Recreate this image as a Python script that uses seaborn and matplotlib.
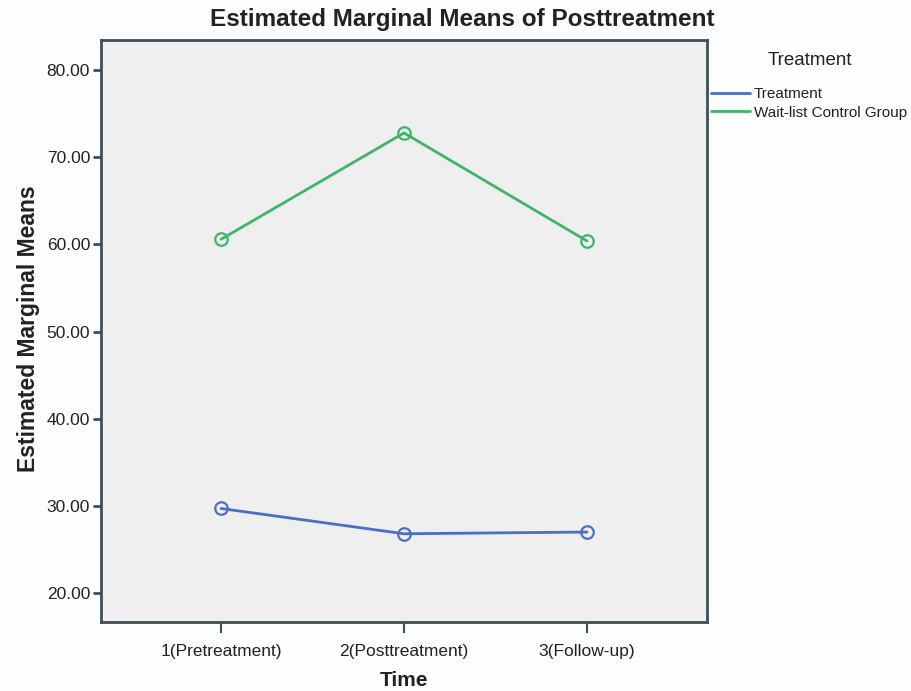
import pandas as pd
import matplotlib
matplotlib.use("Agg")
import matplotlib.pyplot as plt
from matplotlib.lines import Line2D
import seaborn as sns

# -----------------------------
# Data
# -----------------------------
time_labels = ["1(Pretreatment)", "2(Posttreatment)", "3(Follow-up)"]
groups = ["Treatment", "Wait-list Control Group"]
treatment_means = [29.7, 26.8, 27.0]
waitlist_means = [60.6, 72.8, 60.4]
y_ticks = [20, 30, 40, 50, 60, 70, 80]

colors = {"Treatment": "#4a6fc4", "Wait-list Control Group": "#3fb46a"}

df = pd.DataFrame({
    "Time": time_labels * 2,
    "Mean": treatment_means + waitlist_means,
    "Group": [groups[0]] * 3 + [groups[1]] * 3,
})

# -----------------------------
# Plot
# -----------------------------
sns.set_style("white")
plt.rcParams["font.family"] = ["Liberation Sans", "DejaVu Sans"]
txt = "#222222"

fig = plt.figure(figsize=(9.11, 6.91), dpi=100, facecolor="#fcfdff")
ax = fig.add_axes([0.111, 0.0998, 0.665, 0.842])
ax.set_facecolor("#efefef")

sns.lineplot(
    data=df,
    x="Time",
    y="Mean",
    hue="Group",
    palette=colors,
    marker="o",
    markersize=9,
    markerfacecolor="none",
    markeredgewidth=1.6,
    linewidth=2,
    sort=False,
    legend=False,
    ax=ax,
)
# open circles in the line colour
for line, g in zip(ax.lines, groups):
    line.set_markeredgecolor(colors[g])

ax.set_xlim(-0.656, 2.656)
ax.set_ylim(16.67, 83.44)
ax.set_yticks(y_ticks)
ax.set_yticklabels([f"{v:.2f}" for v in y_ticks], fontsize=12.5, color=txt)
ax.set_xticks(range(len(time_labels)))
ax.set_xticklabels(time_labels, fontsize=12.5, color=txt)
ax.tick_params(axis="y", left=True, length=6, width=2, color="#3f4f5a", direction="out", pad=2)
ax.tick_params(axis="x", bottom=True, length=8, width=1.5, color="#3f4f5a", direction="out", pad=8)

for s in ax.spines.values():
    s.set_color("#3f4f5a")
    s.set_linewidth(2)

fig.text(0.507, 0.972, "Estimated Marginal Means of Posttreatment",
         fontsize=17.5, fontweight="bold", color=txt, ha="center", va="center")
ax.set_xlabel("Time", fontsize=15, fontweight="bold", color=txt)
ax.xaxis.set_label_coords(0.5, -0.0997)
ax.xaxis.label.set_va("center")
ax.set_ylabel("Estimated Marginal Means", fontsize=16.5, fontweight="bold", color=txt)
ax.yaxis.set_label_coords(-0.12, 0.505)
ax.yaxis.label.set_va("center")

# -----------------------------
# Legend
# -----------------------------
handles = [Line2D([0], [0], color=colors[g], linewidth=2) for g in groups]
fig.text(0.889, 0.912, "Treatment", fontsize=13.5, ha="center", va="center", color=txt)
leg = fig.legend(handles, groups, loc="upper left", bbox_to_anchor=(0.781, 0.874),
                 frameon=False, handlelength=2.5, handletextpad=0.25, labelspacing=0.3,
                 borderpad=0, borderaxespad=0, prop={"size": 11})
for t in leg.get_texts():
    t.set_color(txt)

plt.savefig("out.png", dpi=100, facecolor=fig.get_facecolor())
plt.close()
